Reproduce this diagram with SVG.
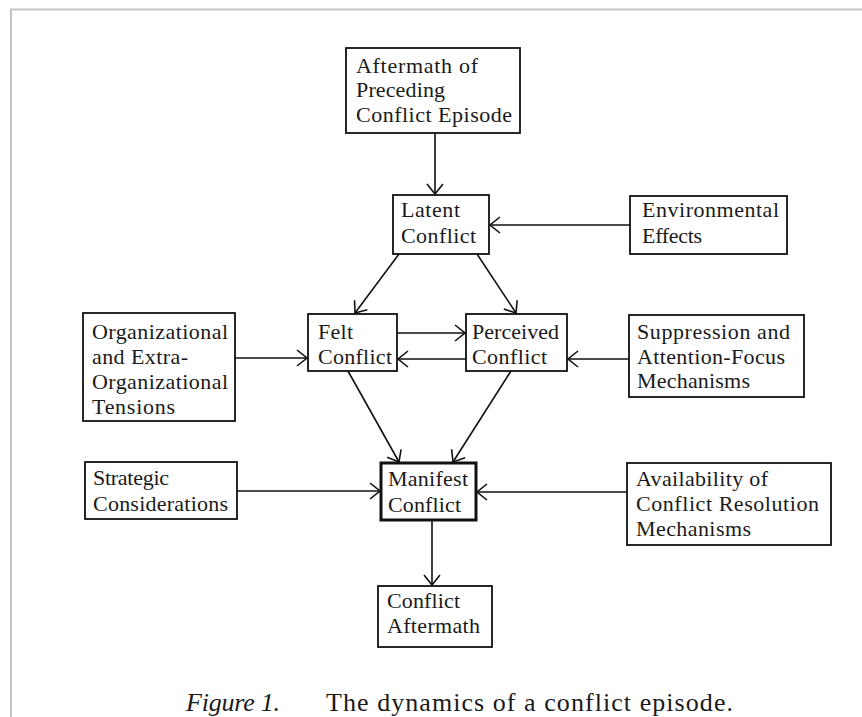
<svg xmlns="http://www.w3.org/2000/svg" width="862" height="717" viewBox="0 0 862 717">
<style>
  .box { fill: #ffffff; stroke: #111111; stroke-width: 1.8; }
  .bold { stroke-width: 3; }
  .t { font-family: "Liberation Serif", "Times New Roman", serif; font-size: 22px; fill: #1a1a1a; }
  .cap { font-family: "Liberation Serif", "Times New Roman", serif; font-size: 26px; fill: #1a1a1a; }
  .edge { stroke: #111111; stroke-width: 1.6; fill: none; marker-end: url(#arr); }
  .frame { stroke: #c4c4c4; stroke-width: 2; fill: none; }
</style>
<defs>
  <marker id="arr" markerUnits="userSpaceOnUse" markerWidth="12" markerHeight="18" viewBox="0 0 12 18" refX="11" refY="9" orient="auto">
    <path d="M1,1 L11,9 L1,17" fill="none" stroke="#111111" stroke-width="1.6"/>
  </marker>
</defs>
<rect width="862" height="717" fill="#ffffff"/>
<path class="frame" d="M862,9.5 H11 V717"/>

<g id="connectors">
  <line class="edge" x1="435" y1="133" x2="435" y2="194"/>
  <line class="edge" x1="630" y1="225" x2="490" y2="225"/>
  <line class="edge" x1="399" y1="254" x2="355" y2="313"/>
  <line class="edge" x1="477" y1="254" x2="516" y2="313"/>
  <line class="edge" x1="397" y1="333" x2="465" y2="333"/>
  <line class="edge" x1="466" y1="359" x2="398" y2="359"/>
  <line class="edge" x1="235" y1="358" x2="307" y2="358"/>
  <line class="edge" x1="629" y1="359" x2="568" y2="359"/>
  <line class="edge" x1="348" y1="371" x2="399" y2="462"/>
  <line class="edge" x1="511" y1="371" x2="453" y2="462"/>
  <line class="edge" x1="237" y1="491" x2="380" y2="491"/>
  <line class="edge" x1="627" y1="492" x2="477" y2="492"/>
  <line class="edge" x1="432" y1="520" x2="432" y2="585"/>
</g>

<g id="aftermath-preceding">
  <rect class="box" x="346" y="48" width="174" height="85"/>
  <text class="t" x="356" y="73" textLength="122" lengthAdjust="spacing">Aftermath of</text>
  <text class="t" x="356" y="97" textLength="89" lengthAdjust="spacing">Preceding</text>
  <text class="t" x="356" y="122" textLength="156" lengthAdjust="spacing">Conflict Episode</text>
</g>
<g id="latent">
  <rect class="box" x="393" y="195" width="96" height="59"/>
  <text class="t" x="401" y="217" textLength="59" lengthAdjust="spacing">Latent</text>
  <text class="t" x="401" y="243" textLength="75" lengthAdjust="spacing">Conflict</text>
</g>
<g id="environmental">
  <rect class="box" x="630" y="196" width="157" height="58"/>
  <text class="t" x="642" y="217" textLength="137" lengthAdjust="spacing">Environmental</text>
  <text class="t" x="642" y="243" textLength="60" lengthAdjust="spacing">Effects</text>
</g>
<g id="organizational">
  <rect class="box" x="83" y="313" width="152" height="108"/>
  <text class="t" x="92" y="339" textLength="136" lengthAdjust="spacing">Organizational</text>
  <text class="t" x="92" y="364" textLength="96" lengthAdjust="spacing">and Extra-</text>
  <text class="t" x="92" y="389" textLength="136" lengthAdjust="spacing">Organizational</text>
  <text class="t" x="92" y="414" textLength="83" lengthAdjust="spacing">Tensions</text>
</g>
<g id="felt">
  <rect class="box" x="308" y="314" width="89" height="57"/>
  <text class="t" x="318" y="339" textLength="35" lengthAdjust="spacing">Felt</text>
  <text class="t" x="318" y="364" textLength="74" lengthAdjust="spacing">Conflict</text>
</g>
<g id="perceived">
  <rect class="box" x="466" y="314" width="101" height="57"/>
  <text class="t" x="472" y="339" textLength="87" lengthAdjust="spacing">Perceived</text>
  <text class="t" x="472" y="364" textLength="75" lengthAdjust="spacing">Conflict</text>
</g>
<g id="suppression">
  <rect class="box" x="629" y="315" width="175" height="82"/>
  <text class="t" x="637" y="339" textLength="153" lengthAdjust="spacing">Suppression and</text>
  <text class="t" x="637" y="364" textLength="148" lengthAdjust="spacing">Attention-Focus</text>
  <text class="t" x="637" y="388" textLength="113" lengthAdjust="spacing">Mechanisms</text>
</g>
<g id="strategic">
  <rect class="box" x="85" y="462" width="152" height="57"/>
  <text class="t" x="93" y="485" textLength="76" lengthAdjust="spacing">Strategic</text>
  <text class="t" x="93" y="511" textLength="135" lengthAdjust="spacing">Considerations</text>
</g>
<g id="manifest">
  <rect class="box bold" x="381" y="463" width="95" height="57"/>
  <text class="t" x="388" y="486" textLength="80" lengthAdjust="spacing">Manifest</text>
  <text class="t" x="388" y="512" textLength="73" lengthAdjust="spacing">Conflict</text>
</g>
<g id="availability">
  <rect class="box" x="627" y="463" width="204" height="82"/>
  <text class="t" x="636" y="486" textLength="132" lengthAdjust="spacing">Availability of</text>
  <text class="t" x="636" y="511" textLength="183" lengthAdjust="spacing">Conflict Resolution</text>
  <text class="t" x="636" y="536" textLength="115" lengthAdjust="spacing">Mechanisms</text>
</g>
<g id="conflict-aftermath">
  <rect class="box" x="378" y="586" width="114" height="61"/>
  <text class="t" x="387" y="608" textLength="73" lengthAdjust="spacing">Conflict</text>
  <text class="t" x="387" y="633" textLength="93" lengthAdjust="spacing">Aftermath</text>
</g>

<g id="caption">
  <text class="cap" x="186" y="711" font-style="italic" textLength="94" lengthAdjust="spacing">Figure 1.</text>
  <text class="cap" x="326" y="711" textLength="407" lengthAdjust="spacing">The dynamics of a conflict episode.</text>
</g>
</svg>
